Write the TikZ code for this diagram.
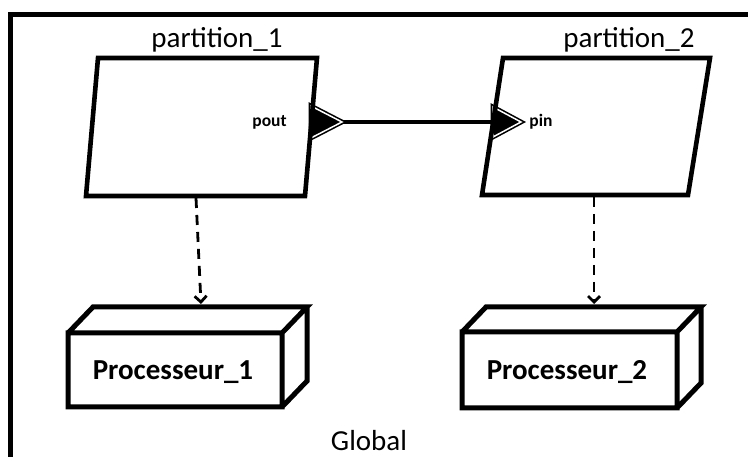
\documentclass[tikz,border=0pt]{standalone}
\usepackage{fontspec}
\setmainfont{Carlito}
\usetikzlibrary{arrows.meta}
\begin{document}
\begin{tikzpicture}[x=1pt,y=-1pt,
  frameline/.style={line width=5pt},
  partline/.style={line width=4.6pt,line join=miter},
  boxline/.style={line width=5pt,line join=miter},
  portshape/.style={draw=black,fill=black,line width=1.6pt,double=white,double distance=1.5pt,line join=miter},
  flowline/.style={line width=3.2pt},
  deploy/.style={line width=2.8pt,dash pattern=on 10pt off 7pt,-{Straight Barb[length=6pt,width=12pt,line width=2.8pt]}},
  biglabel/.style={font=\fontsize{29}{34}\selectfont,anchor=base,inner sep=0pt},
  boxlabel/.style={font=\fontsize{29}{34}\selectfont\bfseries,anchor=base,inner sep=0pt},
  portlabel/.style={font=\fontsize{17.5}{20}\selectfont\bfseries,anchor=base,inner sep=0pt}]
\useasboundingbox (0,0) rectangle (748,457);
\fill[white] (0,0) rectangle (748,457);

% outer frame (cut off at right and bottom)
\draw[frameline] (10,457) -- (10,15) -- (748,15);
\node[biglabel] (global) at (369,450) {Global};

% partitions
\coordinate (p1tl) at (98,58);  \coordinate (p1tr) at (317,58);
\coordinate (p1br) at (305,196); \coordinate (p1bl) at (86,196);
\coordinate (p2tl) at (503,58);  \coordinate (p2tr) at (710,58);
\coordinate (p2br) at (688,195); \coordinate (p2bl) at (482,195);
\node[biglabel] (p1name) at (217,48) {partition\_1};
\node[biglabel] (p2name) at (629,48) {partition\_2};

% ports
\coordinate (poutA) at (311,106); \coordinate (poutTip) at (342,122); \coordinate (poutB) at (311,138);
\coordinate (pinA) at (493,107); \coordinate (pinTip) at (521,122); \coordinate (pinB) at (493,137);
\coordinate (pinBase) at (493,122);
\draw[flowline] (poutTip) -- (pinBase);
\draw[portshape] (poutA) -- (poutTip) -- (poutB) -- cycle;
\draw[portshape] (pinA) -- (pinTip) -- (pinB) -- cycle;
\node[portlabel] (poutlbl) at (269.5,127) {pout};
\node[portlabel] (pinlbl) at (541,127) {pin};

\draw[partline] (p1tl) -- (p1tr) -- (p1br) -- (p1bl) -- cycle;
\draw[partline] (p2tl) -- (p2tr) -- (p2br) -- (p2bl) -- cycle;

% processors (3D boxes)
\draw[boxline] (68,333) -- (282,333) -- (282,407) -- (68,407) -- cycle
  (68,333) -- (93,307) -- (307,307) -- (282,333)
  (307,307) -- (307,381) -- (282,407);
\coordinate (cpu1top) at (201,304);
\node[boxlabel] (cpu1) at (173,380) {Processeur\_1};

\draw[boxline] (462,332) -- (677,332) -- (677,408) -- (462,408) -- cycle
  (462,332) -- (486,307) -- (701,307) -- (677,332)
  (701,307) -- (701,383) -- (677,408);
\coordinate (cpu2top) at (594,304);
\node[boxlabel] (cpu2) at (567,380) {Processeur\_2};

% deployment arrows
\coordinate (p1bot) at (196,198);
\coordinate (p2bot) at (594,197);
\draw[deploy] (p1bot) -- (cpu1top);
\draw[deploy] (p2bot) -- (cpu2top);
\end{tikzpicture}
\end{document}
